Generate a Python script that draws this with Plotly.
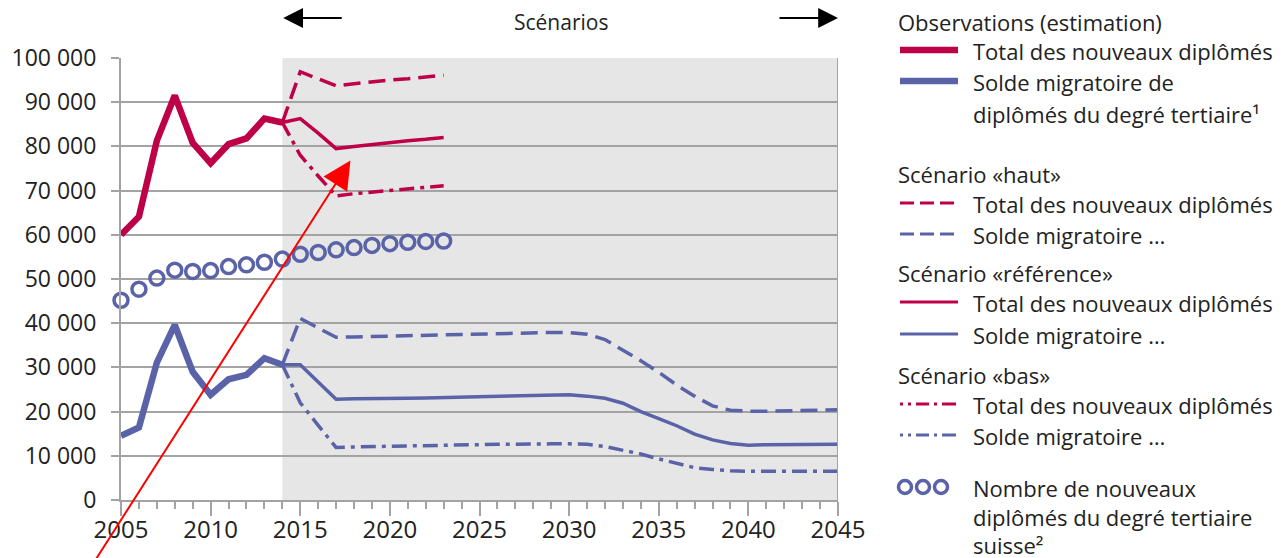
import plotly.graph_objects as go

# ---------------- data ----------------
years_obs = list(range(2005, 2015))
total_obs = [60000, 64100, 81300, 91500, 80800, 76200, 80500, 81800, 86300, 85400]
solde_obs = [14500, 16400, 31100, 39600, 29000, 23800, 27300, 28300, 32100, 30600]

years_total_scen = list(range(2014, 2024))
total_haut = [85400, 96900, 95300, 93700, 94200, 94700, 95000, 95300, 95700, 96100]
total_ref = [85400, 86300, 83000, 79500, 80000, 80500, 80800, 81300, 81600, 82000]
total_bas = [85400, 78000, 73300, 68800, 69300, 69700, 70100, 70400, 70700, 71100]

years_solde_scen = list(range(2014, 2046))
solde_haut = [30600, 41100, 38900, 36800, 36900, 37000, 37000, 37100, 37200, 37400,
              37500, 37600, 37700, 37800, 37850, 37900, 37850, 37500, 36300, 34000,
              31500, 28900, 26000, 23500, 21300, 20300, 20100, 20100, 20200, 20300,
              20300, 20400]
solde_ref = [30600, 30600, 26700, 22800, 22900, 22900, 22900, 23000, 23100, 23200,
             23300, 23400, 23500, 23600, 23700, 23800, 23800, 23500, 23000, 21900,
             20000, 18400, 16800, 14900, 13600, 12800, 12400, 12500, 12500, 12500,
             12600, 12600]
solde_bas = [30600, 22000, 16900, 11900, 12000, 12100, 12200, 12200, 12300, 12300,
             12400, 12500, 12600, 12600, 12700, 12700, 12700, 12600, 12100, 11300,
             10400, 9300, 8300, 7300, 6900, 6600, 6500, 6500, 6500, 6500,
             6500, 6500]

years_suisse = list(range(2005, 2024))
nombre_suisse = [45200, 47700, 50200, 52000, 51700, 51900, 52800, 53200, 53800, 54500,
                 55600, 56000, 56600, 57100, 57600, 58000, 58300, 58500, 58600]

y_tickvals = [0, 10000, 20000, 30000, 40000, 50000, 60000, 70000, 80000, 90000, 100000]
y_ticktext = ["0", "10 000", "20 000", "30 000", "40 000", "50 000", "60 000",
              "70 000", "80 000", "90 000", "100 000"]
x_tickvals = [2005, 2010, 2015, 2020, 2025, 2030, 2035, 2040, 2045]

# ---------------- styles ----------------
RED = "#BE0049"
BLUE = "#5A63A8"
GRID = "#a3a3a3"
FONT = "Open Sans"
DASH = "17px,8px"
DASHDOT = "15px,6px,4px,6px"

fig = go.Figure()

fig.add_trace(go.Scatter(x=years_solde_scen, y=solde_haut, mode="lines",
                         line=dict(color=BLUE, width=3.5, dash=DASH), showlegend=False))
fig.add_trace(go.Scatter(x=years_solde_scen, y=solde_ref, mode="lines",
                         line=dict(color=BLUE, width=3.5), showlegend=False))
fig.add_trace(go.Scatter(x=years_solde_scen, y=solde_bas, mode="lines",
                         line=dict(color=BLUE, width=3.5, dash=DASHDOT), showlegend=False))
fig.add_trace(go.Scatter(x=years_total_scen, y=total_haut, mode="lines",
                         line=dict(color=RED, width=3.5, dash=DASH), showlegend=False))
fig.add_trace(go.Scatter(x=years_total_scen, y=total_ref, mode="lines",
                         line=dict(color=RED, width=3.5), showlegend=False))
fig.add_trace(go.Scatter(x=years_total_scen, y=total_bas, mode="lines",
                         line=dict(color=RED, width=3.5, dash=DASHDOT), showlegend=False))
fig.add_trace(go.Scatter(x=years_obs, y=solde_obs, mode="lines",
                         line=dict(color=BLUE, width=6.5), showlegend=False))
fig.add_trace(go.Scatter(x=years_obs, y=total_obs, mode="lines",
                         line=dict(color=RED, width=6.5), showlegend=False))
fig.add_trace(go.Scatter(x=years_suisse, y=nombre_suisse, mode="markers",
                         marker=dict(symbol="circle-open", size=14, color=BLUE,
                                     line=dict(width=3.5, color=BLUE)),
                         cliponaxis=False, showlegend=False))

# ---------------- geometry helpers (page pixel -> paper) ----------------
OFF = 8  # default page body margin
L, R, T, B = 121, 838, 58, 500
W, H = R - L, B - T


def px(xp):
    return (xp - L) / W


def py(yp):
    return (B - yp) / H


shapes = []
shapes.append(dict(type="rect", xref="x", yref="y", x0=2014, x1=2045, y0=0, y1=100000,
                   fillcolor="#e6e6e6", line=dict(width=0), layer="below"))
shapes.append(dict(type="line", xref="x", yref="y", x0=2045, x1=2045, y0=0, y1=100000,
                   line=dict(color=GRID, width=2)))

annotations = []
annotations.append(dict(xref="paper", yref="paper", x=px(561), y=py(22), text="Scénarios",
                        showarrow=False, font=dict(family=FONT, size=21, color="#222"),
                        xanchor="center", yanchor="middle", borderpad=0))
annotations.append(dict(xref="x", yref="paper", x=2014.05, y=py(18), ax=60, ay=0,
                        showarrow=True, arrowhead=2, arrowsize=2.2, arrowwidth=1.8,
                        arrowcolor="black", text=""))
annotations.append(dict(xref="x", yref="paper", x=2045, y=py(18), ax=-60, ay=0,
                        showarrow=True, arrowhead=2, arrowsize=2.2, arrowwidth=1.8,
                        arrowcolor="black", text=""))
annotations.append(dict(xref="x", yref="y", x=2017.8, y=76800, axref="x", ayref="y",
                        ax=2003.35, ay=-15000, showarrow=True, arrowhead=2,
                        arrowsize=2.8, arrowwidth=2, arrowcolor="#ff0000", text=""))

# ---------------- custom legend ----------------
LX0, LX1, TX = 900, 958, 972
lfont = dict(family=FONT, size=22, color="#222")


def ltext(x, y, s):
    annotations.append(dict(xref="paper", yref="paper", x=px(x), y=py(y), text=s,
                            showarrow=False, font=lfont, xanchor="left",
                            yanchor="middle", align="left", borderpad=0))


def lline(y, color, width, dash="solid"):
    shapes.append(dict(type="line", xref="paper", yref="paper", x0=px(LX0), x1=px(LX1),
                       y0=py(y), y1=py(y), line=dict(color=color, width=width, dash=dash)))


ltext(897, 22, "Observations (estimation)")
lline(50, RED, 6.5)
ltext(TX, 51, "Total des nouveaux diplômés")
lline(81, BLUE, 6.5)
ltext(TX, 82, "Solde migratoire de")
ltext(TX, 114, "diplômés du degré tertiaire¹")

ltext(897, 174, "Scénario «haut»")
lline(203, RED, 3, "14px,6px")
ltext(TX, 204, "Total des nouveaux diplômés")
lline(234, BLUE, 3, "14px,6px")
ltext(TX, 235, "Solde migratoire …")

ltext(897, 273, "Scénario «référence»")
lline(302, RED, 3)
ltext(TX, 303, "Total des nouveaux diplômés")
lline(334, BLUE, 3)
ltext(TX, 335, "Solde migratoire …")

ltext(897, 375, "Scénario «bas»")
lline(404, RED, 3, "3px,5px,3px,5px,13px,5px,3px,5px,14px")
ltext(TX, 405, "Total des nouveaux diplômés")
lline(435, BLUE, 3, "3px,5px,3px,5px,13px,5px,3px,5px,14px")
ltext(TX, 436, "Solde migratoire …")

for cx in (905, 923, 941):
    r = 6.5
    shapes.append(dict(type="circle", xref="paper", yref="paper",
                       x0=px(cx - r), x1=px(cx + r), y0=py(487 + r), y1=py(487 - r),
                       line=dict(color=BLUE, width=3.5)))
ltext(TX, 516, "Nombre de nouveaux<br>diplômés du degré tertiaire<br>suisse²")

fig.update_layout(
    width=1287, height=558,
    margin=dict(l=L - OFF, r=1287 - R + OFF, t=T - OFF, b=558 - B + OFF, pad=0,
                autoexpand=False),
    paper_bgcolor="white", plot_bgcolor="white",
    font=dict(family=FONT, size=22, color="#222"),
    shapes=shapes, annotations=annotations,
    showlegend=False,
)
fig.update_xaxes(range=[2005, 2045], tickvals=x_tickvals, ticks="outside", ticklen=14,
                 tickwidth=2, tickcolor=GRID, showline=True, linecolor=GRID, linewidth=2,
                 showgrid=False, zeroline=False, tickfont=dict(family=FONT, size=24),
                 ticklabelstandoff=-7, automargin=False,
                 minor=dict(dtick=1, ticks="outside", ticklen=7, tickwidth=1.5,
                            tickcolor=GRID, showgrid=False))
fig.update_yaxes(range=[0, 100000], tickvals=y_tickvals, ticktext=y_ticktext,
                 ticks="outside", ticklen=8, tickwidth=2, tickcolor=GRID,
                 showline=True, linecolor=GRID, linewidth=2, showgrid=True,
                 gridcolor=GRID, gridwidth=2, zeroline=False,
                 ticklabelstandoff=10, automargin=False,
                 tickfont=dict(family=FONT, size=23))

fig.write_html("out.html")
